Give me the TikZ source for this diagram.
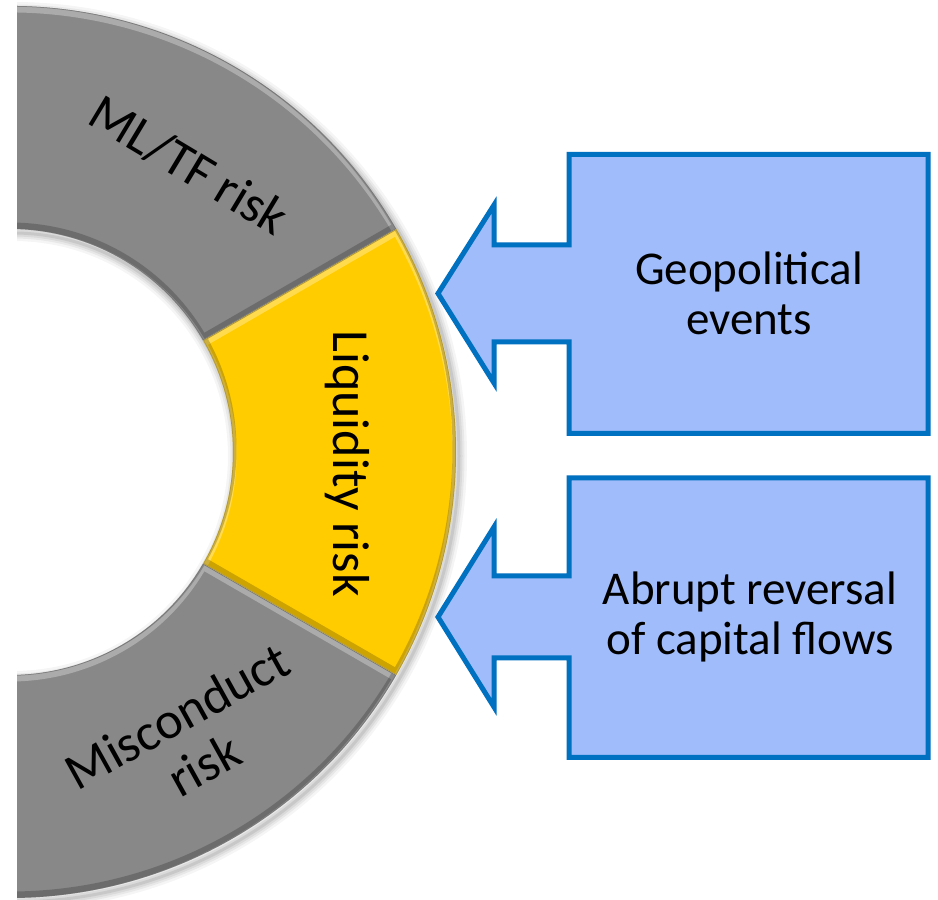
\documentclass[tikz,border=0pt]{standalone}
\usepackage{fontspec}
\setmainfont{Carlito}
\usetikzlibrary{calc}

\definecolor{ringgray}{RGB}{136,136,136}
\definecolor{ringgold}{RGB}{255,204,0}
\definecolor{calloutedge}{RGB}{0,112,192}
\definecolor{calloutfill}{RGB}{160,188,250}

% one sector of the ring, between two angles
\newcommand\segshape[2]{(#1:446) arc[start angle=#1,end angle=#2,radius=446] -- (#2:223) arc[start angle=#2,end angle=#1,radius=223] -- cycle}

% filled sector with a soft bevel: lit along upper edges, darker along lower ones
\newcommand\ringsector[3]{%
  \fill[#3] \segshape{#1}{#2};
  \begin{scope}
    \clip \segshape{#1}{#2};
    \draw[white, opacity=.30, line width=7pt, yshift=-3pt] \segshape{#1}{#2};
    \draw[black, opacity=.20, line width=7pt, yshift=3pt] \segshape{#1}{#2};
    \draw[black, opacity=.12, line width=1.5pt] \segshape{#1}{#2};
  \end{scope}}

\tikzset{
  ringlabel/.style={font=\fontsize{52}{56}\selectfont, text=black, align=center, inner sep=0pt},
  boxlabel/.style={font=\fontsize{47}{50}\selectfont, text=black, align=center, inner sep=0pt},
  callout/.style={draw=calloutedge, fill=calloutfill, line width=5pt, line join=miter, miter limit=10},
}

\begin{document}
\begin{tikzpicture}[x=1pt, y=1pt]
\useasboundingbox (0,0) rectangle (938,900);
\fill[white] (0,0) rectangle (938,900);

% ---------- the ring ----------
\begin{scope}
  \clip (17,0) rectangle (938,900);
  \begin{scope}[shift={(10,448)}]
    % soft drop shadow under the ring
    \begin{scope}[shift={(3,-4)}]
      \foreach \w/\o in {16/.04, 11/.05, 7/.06, 3/.08}
        \draw[black, opacity=\o, line width=\w pt] (0,0) circle[radius=446] (0,0) circle[radius=223];
    \end{scope}
    \ringsector{30}{180}{ringgray}
    \ringsector{-180}{-30}{ringgray}
    \ringsector{-30}{30}{ringgold}

    \node[ringlabel, rotate=-31] (mltf) at (58:338) {ML/TF risk};
    \node[ringlabel, rotate=-90] (liq) at (-2:338) {Liquidity risk};
    \node[ringlabel, rotate=29] (misc) at (-58:340) {Misconduct\\risk};
  \end{scope}
\end{scope}

% ---------- callouts ----------
\draw[callout] (569,745.5) -- (928,745.5) -- (928,466.5) -- (569,466.5)
  -- (569,558) -- (494,558) -- (494,517) -- (438,606.5) -- (494,695)
  -- (494,655) -- (569,655) -- cycle;
\node[boxlabel] (geo) at (749,606.5) {Geopolitical\\events};

\draw[callout] (569,422) -- (928,422) -- (928,142.5) -- (569,142.5)
  -- (569,242) -- (494,242) -- (494,193) -- (438,283) -- (494,373)
  -- (494,324) -- (569,324) -- cycle;
\node[boxlabel] (flows) at (750,283) {Abrupt reversal\\of capital flows};
\end{tikzpicture}
\end{document}
